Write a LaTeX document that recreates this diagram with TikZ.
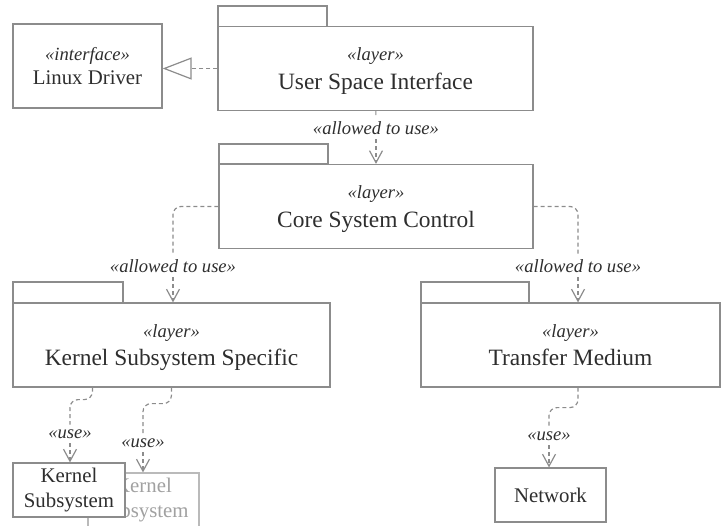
\documentclass[tikz,border=0pt]{standalone}
\usepackage{fontspec}
\setmainfont{Liberation Serif}
\usetikzlibrary{arrows.meta,positioning}
\definecolor{umlline}{HTML}{8C8C8C}
\definecolor{umltext}{HTML}{2E2E2E}
\newcommand{\stereo}[1]{{\fontsize{9.3}{11}\selectfont\itshape «#1»}}

\begin{document}
\begin{tikzpicture}[x=0.5pt,y=-0.5pt,
box/.style = {draw=umlline, fill=white, line width=0.6pt, align=center, inner sep=0pt,
              text=umltext, font=\fontsize{10.4}{12.2}\selectfont, minimum width=#1},
pkg/.style = {box=#1, minimum height=42pt, text depth=0pt, font=\fontsize{11.7}{13.2}\selectfont},
tab/.style = {draw=umlline, fill=white, line width=0.6pt},
dep/.style = {text=umltext, font=\fontsize{9.3}{11}\selectfont\itshape, inner sep=2pt},
dashline/.style = {draw=umlline, line width=0.6pt, dash pattern=on 2pt off 1.5pt},
depend/.style = {-{Straight Barb[length=6pt, width=6.5pt]}},
realize/.style = {-{Triangle[open, fill=white, length=14.5pt, width=11pt]}},
    thick
                        ]
\useasboundingbox (0,0) rectangle (722,525);
\clip (0,0) rectangle (722,525);

    % layers
    \draw[tab] (218,6) rectangle (327,27);
    \node[pkg=157.5pt] (usi) at (375.5,68.5) {\stereo{layer}\\[1pt]User Space Interface};
    \draw[tab] (219,144) rectangle (328,164);
    \node[pkg=157pt] (core) at (376,206.5) {\stereo{layer}\\[1pt]Core System Control};
    \draw[tab] (13,282) rectangle (123,303);
    \node[pkg=158.5pt] (kss) at (171.5,345) {\stereo{layer}\\[1pt]Kernel Subsystem Specific};
    \draw[tab] (421,282) rectangle (529,303);
    \node[pkg=149.5pt] (tm) at (570.5,345) {\stereo{layer}\\[1pt]Transfer Medium};

    % other elements
    \node[box=74.5pt, minimum height=42pt] (driver) at (87.5,66) {\stereo{interface}\\Linux Driver};
    \node[box=55.5pt, minimum height=27pt, draw=umlline!60, text=umltext!45] (ks2) at (143.5,500) {Kernel\\Subsystem};
    \node[box=56pt, minimum height=27pt] (ks1) at (69,490) {Kernel\\Subsystem};
    \node[box=55.5pt, minimum height=27pt] (net) at (550.5,495) {Network};

    % dependencies
    \draw[dashline, realize] (usi.west) -- (usi.west -| driver.east);

    \node[dep] (l1) at (376,128) {«allowed to use»};
    \draw[dashline] (usi) -- (l1);
    \draw[dashline, depend] (l1) -- (l1 |- core.north);

    \node[dep] (l2) at (173,266) {«allowed to use»};
    \draw[dashline, rounded corners=4pt] (core.west) -| (l2);
    \draw[dashline, depend] (l2) -- (l2 |- kss.north);

    \node[dep] (l3) at (578,266) {«allowed to use»};
    \draw[dashline, rounded corners=4pt] (core.east) -| (l3);
    \draw[dashline, depend] (l3) -- (l3 |- tm.north);

    \node[dep] (u1) at (70,434) {«use»};
    \draw[dashline, rounded corners=4pt] ([xshift=40pt]kss.south west) -- ++(0,12) -| (u1);
    \draw[dashline, depend] (u1) -- (u1 |- ks1.north);

    \node[dep] (u2) at (143,443) {«use»};
    \draw[dashline, rounded corners=4pt] ([xshift=79.5pt]kss.south west) -- ++(0,16) -| (u2);
    \draw[dashline, depend] (u2) -- (u2 |- ks2.north);

    \node[dep] (u3) at (549,436) {«use»};
    \draw[dashline, rounded corners=4pt] (tm.south -| l3) -- ++(0,20) -| (u3);
    \draw[dashline, depend] (u3) -- (u3 |- net.north);

\end{tikzpicture}
\end{document}
